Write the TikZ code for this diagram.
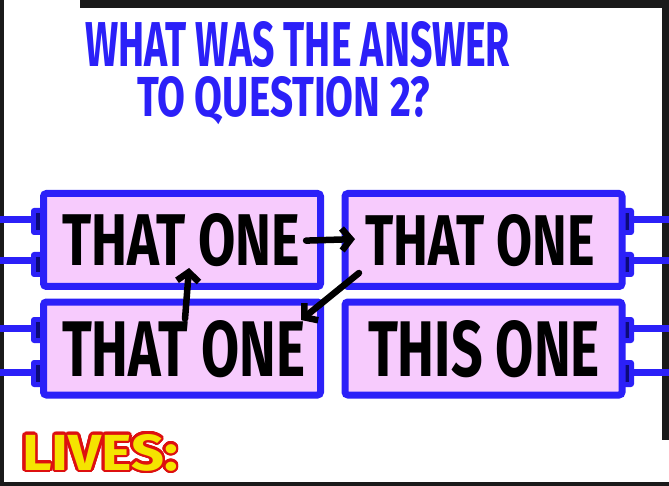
\documentclass[tikz,border=0pt]{standalone}
\usepackage{fontspec}
\setmainfont{Fira Sans}
\usepackage{graphicx}
\usepackage{contour}
\usetikzlibrary{arrows.meta}
\definecolor{inkblue}{HTML}{2B20F8}
\definecolor{boxpink}{HTML}{F7CBFD}
\definecolor{navy}{HTML}{0C0A7A}
\definecolor{lyellow}{HTML}{F5E400}
\definecolor{lred}{HTML}{DD1010}
\definecolor{frame}{HTML}{1A1A1A}
\tikzset{
  panel/.style={draw=inkblue, line width=7pt, fill=boxpink, rounded corners=3pt,
    minimum width=277pt, minimum height=93pt, inner sep=0pt},
  wire/.style={draw=inkblue, line width=7pt},
  tab/.style={fill=inkblue, rounded corners=3pt},
  tabin/.style={fill=navy},
  word/.style={inner sep=0pt, outer sep=0pt, anchor=base west, font=\bfseries},
  arr/.style={draw=black, line width=6.5pt, line cap=round, line join=round,
    -{Straight Barb[length=9pt,width=22pt,line width=6.5pt]}},
}
\newcommand{\fitw}[3]{\resizebox{#1pt}{#2pt}{#3}}
\begin{document}
\begin{tikzpicture}[x=1pt,y=-1pt]
\useasboundingbox (0,0) rectangle (669,486);
% frame
\fill[frame] (0,0) rectangle (669,486);
\fill[white] (4,8) rectangle (662,482);
\fill[white] (4,0) rectangle (80,8);
\fill[white] (600,440) rectangle (669,482);
% wires
\foreach \yy in {220,261,328.5,372}{
  \draw[wire] (0,\yy) -- (36,\yy);
  \draw[wire] (633,\yy) -- (669,\yy);
}
% tabs
\foreach \ya/\yb in {208/235,252/277,317/343,360/387}{
  \fill[tab] (31,\ya) rectangle (45,\yb);
  \fill[tabin] (36,\ya+5) rectangle (40,\yb-5);
  \fill[tab] (620,\ya) rectangle (634,\yb);
  \fill[tabin] (625,\ya+5) rectangle (629,\yb-5);
}
% panels
\node[panel] (p1) at (182,240) {};
\node[panel] (p2) at (483.5,240) {};
\node[panel] (p3) at (182,348.5) {};
\node[panel] (p4) at (483.5,348.5) {};
% title
\node[word, text=inkblue] (title1) at (85,67) {\fitw{425}{45}{WHAT WAS THE ANSWER}};
\node[word, text=inkblue] (title2) at (137,117) {\fitw{293}{40}{TO QUESTION 2?}};
% panel texts
\node[word] (t1) at (62,266) {\fitw{238}{52}{THAT ONE}};
\node[word] (t2) at (365,266) {\fitw{230}{51}{THAT ONE}};
\node[word] (t3) at (62,376) {\fitw{243}{56}{THAT ONE}};
\node[word] (t4) at (368,376) {\fitw{232}{56}{THIS ONE}};
% arrows
\coordinate (a2s) at (359,273);
\coordinate (a2e) at (301,320);
\coordinate (a3s) at (185,319);
\coordinate (a3e) at (189,268);
\draw[arr] ([xshift=6pt]t1.east) -- ([xshift=-10pt,yshift=2pt]t2.west);
\draw[arr] (a2s) -- (a2e);
\draw[arr] (a3s) -- (a3e);
% lives
\contourlength{0.45pt}
\contournumber{32}
\node[word] (lives) at (22,470) {\fitw{156}{36}{\contour{lred}{\textcolor{lyellow}{LIVES:}}}};
\end{tikzpicture}
\end{document}
